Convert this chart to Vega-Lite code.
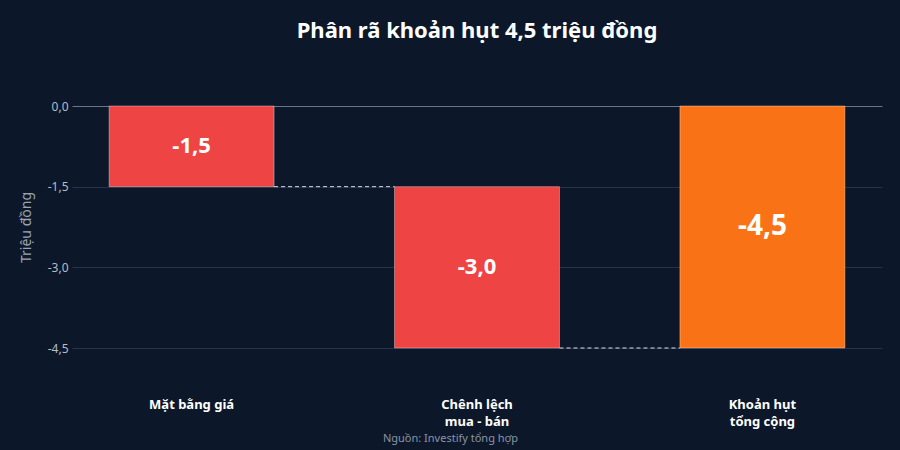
{
  "$schema": "https://vega.github.io/schema/vega-lite/v6.json",
  "autosize": {"type": "none"},
  "padding": {"left": 72, "top": 106, "right": 18, "bottom": 102},
  "width": 810,
  "height": 242,
  "background": "#0c1829",
  "title": {
    "text": "Phân rã khoản hụt 4,5 triệu đồng",
    "anchor": "middle",
    "frame": "group",
    "font": "Noto Sans",
    "fontSize": 22,
    "fontWeight": "bold",
    "color": "#ffffff",
    "offset": 57
  },
  "config": {
    "locale": {"number": {"decimal": ",", "thousands": ".", "grouping": [3], "currency": ["", " đ"], "minus": "-"}},
    "view": {"stroke": null},
    "font": "Noto Sans"
  },
  "datasets": {
    "bars": [
      {"name": "Mặt bằng giá", "start": 0, "end": -1.5, "value": -1.5, "kind": "Giảm"},
      {"name": "Chênh lệch mua - bán", "start": -1.5, "end": -4.5, "value": -3.0, "kind": "Giảm"},
      {"name": "Khoản hụt tổng cộng", "start": 0, "end": -4.5, "value": -4.5, "kind": "Tổng"}
    ],
    "links": [
      {"from": "Mặt bằng giá", "to": "Chênh lệch mua - bán", "level": -1.5},
      {"from": "Chênh lệch mua - bán", "to": "Khoản hụt tổng cộng", "level": -4.5}
    ]
  },
  "layer": [
    {
      "data": {"name": "bars"},
      "mark": {"type": "bar", "stroke": "#ffffff", "strokeOpacity": 0.35, "strokeWidth": 1},
      "encoding": {
        "x": {
          "field": "name", "type": "nominal", "sort": null,
          "scale": {"paddingInner": 0.422, "paddingOuter": 0.13, "align": 0.5},
          "axis": {
            "title": "Nguồn: Investify tổng hợp",
            "titleColor": "#8a94a3",
            "titleFont": "Noto Sans",
            "titleFontSize": 11,
            "titleFontWeight": "normal",
            "titleX": 378,
            "titleY": 90,
            "titleAlign": "center",
            "titleBaseline": "middle",
            "labelAngle": 0,
            "labelColor": "#ffffff",
            "labelFont": "Noto Sans",
            "labelFontSize": 13,
            "labelFontWeight": "bold",
            "labelPadding": 50,
            "labelLineHeight": 17,
            "labelBaseline": "top",
            "labelExpr": "datum.value == 'Chênh lệch mua - bán' ? ['Chênh lệch', 'mua - bán'] : datum.value == 'Khoản hụt tổng cộng' ? ['Khoản hụt', 'tổng cộng'] : datum.value",
            "domain": false,
            "ticks": false,
            "grid": false
          }
        },
        "y": {
          "field": "start", "type": "quantitative",
          "scale": {"domain": [-4.5, 0], "nice": false, "zero": false},
          "axis": {
            "title": "Triệu đồng",
            "titleColor": "#9aa4b2",
            "titleFont": "Noto Sans",
            "titleFontSize": 14,
            "titleFontWeight": "normal",
            "titlePadding": 14,
            "values": [0, -1.5, -3, -4.5],
            "format": ".1f",
            "labelColor": "#b4bcc8",
            "labelFont": "Noto Sans",
            "labelFontSize": 12,
            "labelPadding": 4,
            "domain": false,
            "ticks": false,
            "grid": true,
            "gridColor": {"condition": {"test": "datum.value === 0", "value": "#66768c"}, "value": "#24324a"},
            "gridWidth": 1
          }
        },
        "y2": {"field": "end"},
        "color": {
          "field": "kind", "type": "nominal",
          "scale": {"domain": ["Giảm", "Tổng"], "range": ["#ef4444", "#f97316"]},
          "legend": null
        }
      }
    },
    {
      "data": {"name": "links"},
      "mark": {"type": "rule", "color": "#d8dde6", "strokeDash": [4, 3], "strokeWidth": 1},
      "encoding": {
        "x": {"field": "from", "type": "nominal", "sort": ["Mặt bằng giá", "Chênh lệch mua - bán", "Khoản hụt tổng cộng"], "bandPosition": 1},
        "x2": {"field": "to", "bandPosition": 0},
        "y": {"field": "level", "type": "quantitative"}
      }
    },
    {
      "data": {"name": "bars"},
      "transform": [{"calculate": "(datum.start + datum.end) / 2", "as": "mid"}],
      "mark": {"type": "text", "color": "#ffffff", "font": "Noto Sans", "fontWeight": "bold", "baseline": "middle", "align": "center"},
      "encoding": {
        "x": {"field": "name", "type": "nominal", "sort": null},
        "y": {"field": "mid", "type": "quantitative"},
        "text": {"field": "value", "type": "quantitative", "format": ".1f"},
        "size": {"condition": {"test": "datum.kind == 'Tổng'", "value": 28}, "value": 22}
      }
    }
  ]
}
